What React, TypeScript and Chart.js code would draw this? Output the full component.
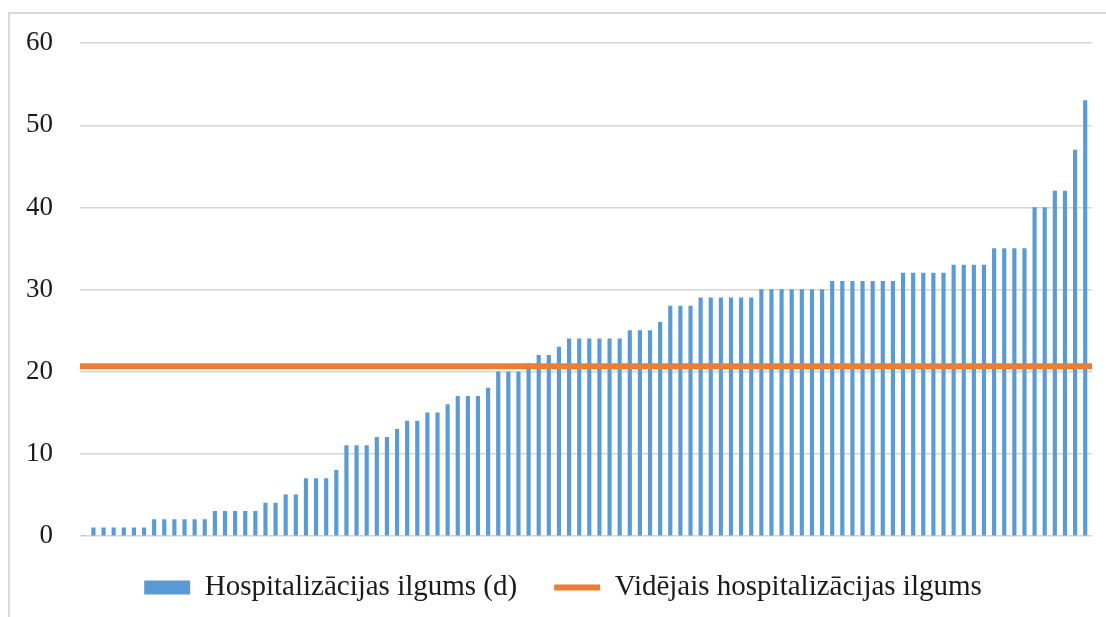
import React, { useEffect, useRef } from "react";
import { Chart, registerables } from "chart.js";

Chart.register(...registerables);

// Patients sorted by length of stay (100 patients)
const patients: string[] = Array.from({ length: 100 }, (_, i) => String(i + 1));

const stayDays: number[] = [
  0,
  1, 1, 1, 1, 1, 1,
  2, 2, 2, 2, 2, 2,
  3, 3, 3, 3, 3,
  4, 4,
  5, 5,
  7, 7, 7,
  8,
  11, 11, 11,
  12, 12,
  13,
  14, 14,
  15, 15,
  16,
  17, 17, 17,
  18,
  20, 20, 20,
  21,
  22, 22,
  23,
  24, 24, 24, 24, 24, 24,
  25, 25, 25,
  26,
  28, 28, 28,
  29, 29, 29, 29, 29, 29,
  30, 30, 30, 30, 30, 30, 30,
  31, 31, 31, 31, 31, 31, 31,
  32, 32, 32, 32, 32,
  33, 33, 33, 33,
  35, 35, 35, 35,
  40, 40,
  42, 42,
  47,
  53,
];

const averageStay = 20.67;
const averageLinePoints = [
  { x: 0, y: averageStay },
  { x: 1, y: averageStay },
];

const yTicks = [0, 10, 20, 30, 40, 50, 60];

const barLabel = "Hospitalizācijas ilgums (d)";
const lineLabel = "Vidējais hospitalizācijas ilgums";

const SERIF = "'Liberation Serif', 'Times New Roman', serif";

export default function App() {
  const canvasRef = useRef<HTMLCanvasElement | null>(null);

  useEffect(() => {
    const canvas = canvasRef.current;
    if (!canvas) return;
    const chart = new Chart(canvas, {
      type: "bar",
      data: {
        labels: patients,
        datasets: [
          {
            type: "bar",
            label: barLabel,
            data: stayDays,
            backgroundColor: "#5B9BD5",
            borderWidth: 0,
            barThickness: 3.5,
            categoryPercentage: 1,
            pointStyle: "rect",
            order: 1,
            xAxisID: "x",
            yAxisID: "y",
          } as any,
          {
            type: "line",
            label: lineLabel,
            data: averageLinePoints,
            borderColor: "#ED7D31",
            backgroundColor: "#ED7D31",
            borderWidth: 6,
            pointRadius: 0,
            pointStyle: "line",
            fill: false,
            order: 0,
            xAxisID: "x2",
            yAxisID: "y",
          } as any,
        ],
      },
      options: {
        responsive: false,
        animation: false,
        devicePixelRatio: 1,
        layout: { padding: { left: 20, right: 0, top: 41, bottom: 5 } },
        scales: {
          x: {
            type: "category",
            display: false,
            offset: true,
            grid: { display: false },
          },
          x2: {
            type: "linear",
            display: false,
            offset: false,
            min: 0,
            max: 1,
            grid: { display: false, offset: false },
          },
          y: {
            position: "left",
            min: 0,
            max: 60,
            afterBuildTicks: (scale: any) => {
              scale.ticks = yTicks.map((v) => ({ value: v }));
            },
            afterFit: (scale: any) => {
              scale.width = 60;
            },
            border: { display: false },
            grid: {
              color: "#d6d6d6",
              lineWidth: 1.5,
              drawTicks: false,
            },
            ticks: {
              padding: 27,
              color: "#1a1a1a",
              font: { family: SERIF, size: 27 },
            },
          },
          yRight: {
            type: "linear",
            position: "right",
            display: true,
            min: 0,
            max: 60,
            afterFit: (scale: any) => {
              scale.width = 14;
            },
            border: { display: false },
            grid: { display: false, drawTicks: false },
            ticks: { display: false },
          },
        },
        plugins: {
          tooltip: { enabled: false },
          legend: {
            display: true,
            position: "bottom",
            labels: {
              usePointStyle: true,
              pointStyleWidth: 46,
              boxHeight: 14,
              padding: 37,
              color: "#1a1a1a",
              font: { family: SERIF, size: 29 },
              sort: (a: any, b: any) => a.datasetIndex - b.datasetIndex,
            },
          },
        },
      },
    } as any);
    return () => chart.destroy();
  }, []);

  return (
    <div
      style={{
        position: "fixed",
        left: 0,
        top: 0,
        width: 1106,
        height: 617,
        overflow: "hidden",
        background: "#ffffff",
      }}
    >
      <div
        style={{
          position: "absolute",
          left: 8,
          top: 12,
          width: 1200,
          height: 700,
          border: "2px solid #d9d9d9",
          boxSizing: "border-box",
        }}
      />
      <canvas
        ref={canvasRef}
        width={1106}
        height={617}
        style={{ position: "absolute", left: 0, top: 0, width: 1106, height: 617 }}
      />
    </div>
  );
}
